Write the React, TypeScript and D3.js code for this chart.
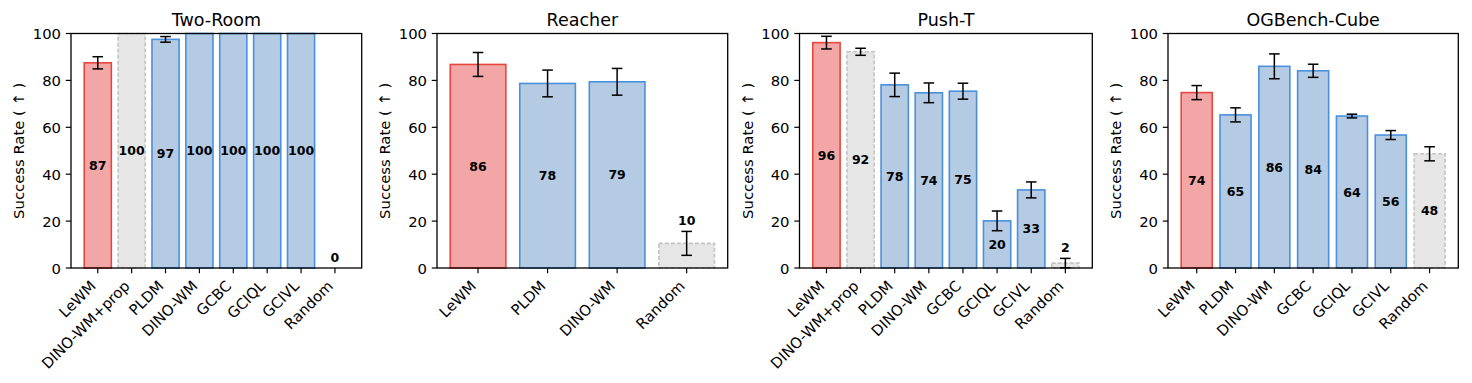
import React, { useEffect } from "react";
import * as d3 from "d3";

// ---------- data ----------
const panelTitles = ["Two-Room", "Reacher", "Push-T", "OGBench-Cube"];

const twoRoomCategories = ["LeWM", "DINO-WM+prop", "PLDM", "DINO-WM", "GCBC", "GCIQL", "GCIVL", "Random"];
const twoRoomValues = [87.5, 100, 97.5, 100, 100, 100, 100, 0];
const twoRoomErrors = [2.6, 0, 1.2, 0, 0, 0, 0, 0];

const reacherCategories = ["LeWM", "PLDM", "DINO-WM", "Random"];
const reacherValues = [86.8, 78.7, 79.4, 10.5];
const reacherErrors = [5.1, 5.7, 5.7, 5.1];

const pushTCategories = ["LeWM", "DINO-WM+prop", "PLDM", "DINO-WM", "GCBC", "GCIQL", "GCIVL", "Random"];
const pushTValues = [96.1, 92.2, 78.1, 74.7, 75.4, 20.1, 33.3, 2.1];
const pushTErrors = [2.7, 1.5, 5.0, 4.2, 3.4, 4.2, 3.4, 2.0];

const cubeCategories = ["LeWM", "PLDM", "DINO-WM", "GCBC", "GCIQL", "GCIVL", "Random"];
const cubeValues = [74.8, 65.3, 86.0, 84.1, 64.8, 56.7, 48.7];
const cubeErrors = [3.0, 3.0, 5.3, 2.8, 0.8, 1.9, 3.0];

const yTicks = [0, 20, 40, 60, 80, 100];
const yLabel = "Success Rate ( \u2191 )";

// ---------- layout / style ----------
const W = 1472;
const H = 383;
const TOP = 33.5;
const BOTTOM = 268;
const PANEL_LEFT = [71, 437, 799.5, 1168];
const PANEL_RIGHT = [361.7, 727.7, 1092.3, 1458.3];
const FONT = "'DejaVu Sans', sans-serif";
const FS = 14.8;

const styleFor = (cat: string) => {
  if (cat === "LeWM") return { fill: "#f2a6a6", stroke: "#e8473e", dash: null };
  if (cat === "Random" || cat === "DINO-WM+prop") return { fill: "#e6e6e6", stroke: "#c4c4c4", dash: "4,2" };
  return { fill: "#b5cbe3", stroke: "#4a90dc", dash: null };
};

const panels = [
  { cats: twoRoomCategories, vals: twoRoomValues, errs: twoRoomErrors },
  { cats: reacherCategories, vals: reacherValues, errs: reacherErrors },
  { cats: pushTCategories, vals: pushTValues, errs: pushTErrors },
  { cats: cubeCategories, vals: cubeValues, errs: cubeErrors },
];

function Panel({ idx }: { idx: number }) {
  const { cats, vals, errs } = panels[idx];
  const n = cats.length;
  const bw = 0.8;
  const span = n - 1 + bw;
  const margin = 0.05 * span;
  const x = d3
    .scaleLinear()
    .domain([-bw / 2 - margin, n - 1 + bw / 2 + margin])
    .range([PANEL_LEFT[idx], PANEL_RIGHT[idx]]);
  const y = d3.scaleLinear().domain([0, 100]).range([BOTTOM, TOP]);
  const left = PANEL_LEFT[idx];
  const right = PANEL_RIGHT[idx];
  const cap = 5.3;

  return (
    <g>
      {/* bars */}
      {cats.map((c, i) => {
        const s = styleFor(c);
        const x0 = x(i - bw / 2);
        const x1 = x(i + bw / 2);
        const yt = y(vals[i]);
        return (
          <rect
            key={"b" + i}
            x={x0}
            y={yt}
            width={x1 - x0}
            height={Math.max(0, BOTTOM - yt)}
            fill={s.fill}
            stroke={s.stroke}
            strokeWidth={1.6}
            strokeDasharray={s.dash || undefined}
            opacity={vals[i] > 0 ? 1 : 0}
          />
        );
      })}
      {/* error bars */}
      {cats.map((c, i) => {
        if (errs[i] <= 0) return null;
        const cx = x(i);
        const y1 = y(vals[i] + errs[i]);
        const y0 = y(Math.max(0, vals[i] - errs[i]));
        return (
          <g key={"e" + i} stroke="#000" strokeWidth={1.5}>
            <line x1={cx} x2={cx} y1={y1} y2={y0} />
            <line x1={cx - cap} x2={cx + cap} y1={y1} y2={y1} />
            <line x1={cx - cap} x2={cx + cap} y1={y0} y2={y0} />
          </g>
        );
      })}
      {/* value labels */}
      {cats.map((c, i) => {
        const above = vals[i] < 15;
        const yv = above ? vals[i] + errs[i] + 4.5 : vals[i] / 2;
        return (
          <text
            key={"l" + i}
            x={x(i)}
            y={y(yv)}
            textAnchor="middle"
            dominantBaseline="central"
            fontFamily={FONT}
            fontWeight="bold"
            fontSize={12.5}
            fill="#000"
          >
            {Math.floor(vals[i])}
          </text>
        );
      })}
      {/* spines */}
      <rect x={left} y={TOP} width={right - left} height={BOTTOM - TOP} fill="none" stroke="#000" strokeWidth={1.3} />
      {/* y ticks */}
      {yTicks.map((t) => (
        <g key={"y" + t}>
          <line x1={left - 5.2} x2={left} y1={y(t)} y2={y(t)} stroke="#000" strokeWidth={1.2} />
          <text
            x={left - 10}
            y={y(t)}
            textAnchor="end"
            dominantBaseline="central"
            fontFamily={FONT}
            fontSize={FS}
            fill="#000"
          >
            {t}
          </text>
        </g>
      ))}
      {/* x ticks */}
      {cats.map((c, i) => (
        <g key={"x" + i}>
          <line x1={x(i)} x2={x(i)} y1={BOTTOM} y2={BOTTOM + 5.2} stroke="#000" strokeWidth={1.2} />
          <text
            transform={`translate(${x(i) - 1},${BOTTOM + 19}) rotate(-45)`}
            textAnchor="end"
            fontFamily={FONT}
            fontSize={FS}
            fill="#000"
          >
            {c}
          </text>
        </g>
      ))}
      {/* title */}
      <text
        x={(left + right) / 2}
        y={TOP - 7.5}
        textAnchor="middle"
        fontFamily={FONT}
        fontSize={17.5}
        fill="#000"
      >
        {panelTitles[idx]}
      </text>
      {/* y label */}
      <text
        transform={`translate(${left - 47},${(TOP + BOTTOM) / 2}) rotate(-90)`}
        textAnchor="middle"
        fontFamily={FONT}
        fontSize={FS}
        fill="#000"
      >
        {yLabel}
      </text>
    </g>
  );
}

export default function App() {
  useEffect(() => {
    document.body.style.margin = "0";
  }, []);
  return (
    <svg width={W} height={H} style={{ display: "block", background: "#fff" }}>
      <rect x={0} y={0} width={W} height={H} fill="#fff" />
      {panels.map((_, i) => (
        <Panel key={i} idx={i} />
      ))}
    </svg>
  );
}
